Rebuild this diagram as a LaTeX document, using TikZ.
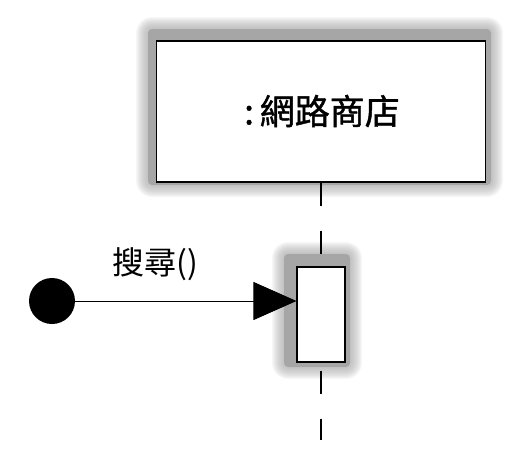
\documentclass[tikz,border=0pt]{standalone}
\usepackage{fontspec}
\newfontfamily\cjk{Noto Sans CJK TC}
\newfontfamily\cjkmed[FakeBold=1.2]{Noto Sans CJK TC}
\usetikzlibrary{arrows.meta}
\definecolor{shadowgray}{HTML}{A6A6A6}
\newcommand\mysoftshadow[4]{%
  \fill[shadowgray,rounded corners=4pt] (#1,#2) rectangle (#3,#4);
  \foreach \k in {1,...,12}{
    \fill[shadowgray,opacity=0.085,rounded corners=4pt+\k pt]
      (#1-\k,#2-\k) rectangle (#3+\k,#4+\k);
  }%
}
\tikzset{
  boxstyle/.style={draw=black,fill=white,line width=1.1pt,inner sep=0pt},
  lifeline/.style={line width=1.3pt,dash pattern=on 23pt off 25pt},
  msg/.style={line width=1pt,-{Triangle[length=43pt,width=38pt]}},
}
\begin{document}
\begin{tikzpicture}[x=1pt,y=-1pt]
\useasboundingbox (0,0) rectangle (517,461);
% shadows
\mysoftshadow{148}{29}{491}{185}
\mysoftshadow{284}{254}{350}{367}
% object box
\node[boxstyle,minimum width=329pt,minimum height=141pt] (store) at (321,111.5) {};
\node[font=\cjkmed\fontsize{35pt}{40pt}\selectfont] (title) at (322,111) {:\,網路商店};
% lifeline
\node[boxstyle,minimum width=48pt,minimum height=95pt] (act) at (321,314.5) {};
\coordinate (lend) at (321,440);
\draw[lifeline] (store.south) -- (act.north);
\draw[lifeline,dash phase=40pt] (act.south) -- (lend);
% start
\node[circle,fill=black,minimum size=46pt,inner sep=0pt] (start) at (52,301) {};
\draw[msg] (start.east) -- (start.east -| act.west);
\node[font=\cjk\fontsize{32pt}{38pt}\selectfont] (lbl) at (155,264) {搜尋()};
\end{tikzpicture}
\end{document}
